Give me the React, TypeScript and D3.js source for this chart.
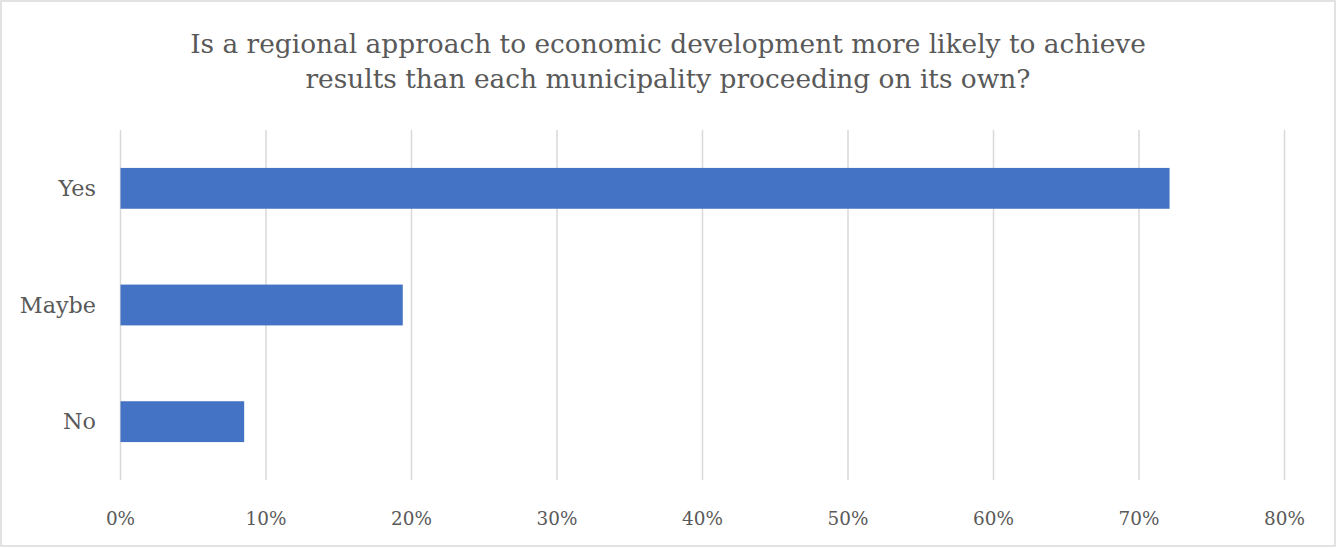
import React from "react";
import * as d3 from "d3";

const categories = ["Yes", "Maybe", "No"];
const values = [0.721, 0.194, 0.085];
const tickValues = [0, 0.1, 0.2, 0.3, 0.4, 0.5, 0.6, 0.7, 0.8];
const titleLines = [
  "Is a regional approach to economic development more likely to achieve",
  "results than each municipality proceeding on its own?",
];

const W = 1337;
const H = 548;
const FONT = "'DejaVu Serif', serif";
const TEXT = "#595959";

export default function App() {
  const x = d3.scaleLinear().domain([0, 0.8]).range([120.5, 1284.5]);
  const y = d3.scaleBand().domain(categories).range([130, 480]).paddingInner(0.65).paddingOuter(0.325);
  const fmt = d3.format(".0%");
  return (
    <svg width={W} height={H} style={{ position: "absolute", left: 0, top: 0, background: "#fff" }}>
      <rect x={1} y={1} width={W - 3} height={H - 3} fill="#fff" stroke="#d9d9d9" strokeWidth={1.5} />
      {titleLines.map((t, i) => (
        <text key={i} x={668} y={53 + i * 35} textAnchor="middle" fontFamily={FONT} fontSize={26.4} fill={TEXT} fontWeight={300}>
          {t}
        </text>
      ))}
      {tickValues.map((v) => (
        <line key={"g" + v} x1={x(v)} x2={x(v)} y1={130} y2={480} stroke="#d9d9d9" strokeWidth={1.5} />
      ))}
      {categories.map((c, i) => (
        <rect key={c} x={x(0)} y={y(c)} width={x(values[i]) - x(0)} height={y.bandwidth()} fill="#4472c4" />
      ))}
      {categories.map((c) => (
        <text key={"l" + c} x={96} y={(y(c) as number) + y.bandwidth() / 2} dy="0.35em" textAnchor="end" fontFamily={FONT} fontSize={22.3} fill={TEXT}>
          {c}
        </text>
      ))}
      {tickValues.map((v) => (
        <text key={"t" + v} x={x(v)} y={525} textAnchor="middle" fontFamily={FONT} fontSize={18.4} fill={TEXT}>
          {fmt(v)}
        </text>
      ))}
    </svg>
  );
}
